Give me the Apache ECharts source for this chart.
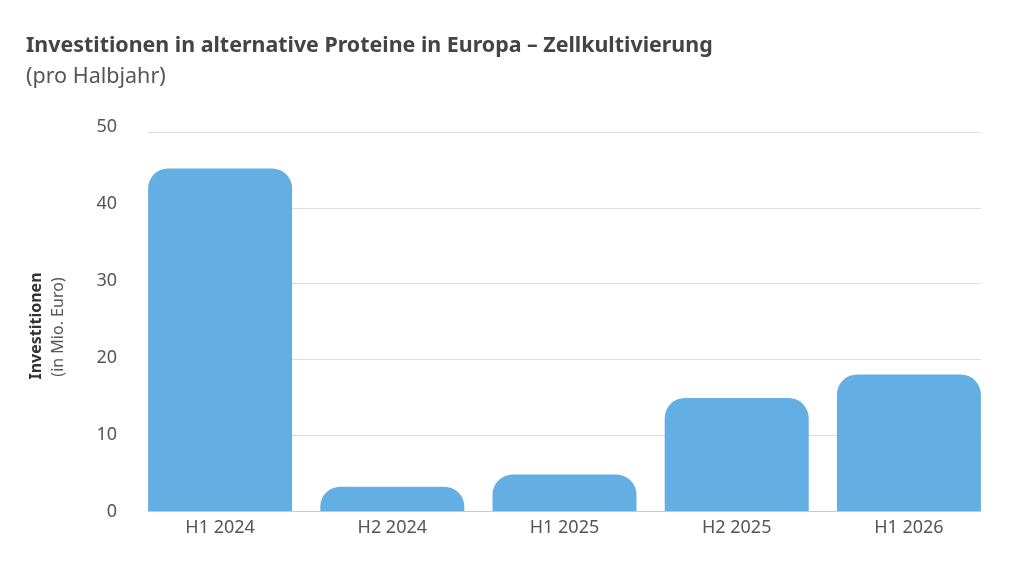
<!DOCTYPE html>
<html>
<head>
    <meta charset="UTF-8">
    <title>Investitionen Zellkultivierung</title>
    <style>
        html, body { margin: 0; padding: 0; background: #fff; }
        #chart { width: 1024px; height: 576px; }
    </style>
</head>
<body>
    <div id="chart"></div>
    <script src="https://cdn.jsdelivr.net/npm/echarts@6/dist/echarts.min.js"></script>
    <script>
        // Daten
        var categories = ['H1 2024', 'H2 2024', 'H1 2025', 'H2 2025', 'H1 2026'];
        var investments = [45.2, 3.2, 4.8, 14.9, 18.0];
        var yTicks = [0, 10, 20, 30, 40, 50];

        var fontFamily = '"Noto Sans", "Open Sans", sans-serif';
        var barColor = '#63afe3';
        var yMin = yTicks[0];
        var yMax = yTicks[yTicks.length - 1];

        var chart = echarts.init(document.getElementById('chart'));

        var option = {
            backgroundColor: '#ffffff',
            animation: false,
            textStyle: { fontFamily: fontFamily },
            title: [{
                text: 'Investitionen in alternative Proteine in Europa – Zellkultivierung',
                left: 21,
                top: 30,
                textStyle: { fontSize: 21.4, fontWeight: 'bold', color: '#444444', fontFamily: fontFamily }
            }, {
                text: '(pro Halbjahr)',
                left: 21,
                top: 61,
                textStyle: { fontSize: 21.5, fontWeight: 'normal', color: '#555555', fontFamily: fontFamily }
            }],
            // grid 0: Raster, grid 1: Balken (randbündig), grid 2: y-Beschriftung
            grid: [
                { left: 148, right: 43, top: 132, bottom: 65 },
                { left: 134, right: 29, top: 132, bottom: 65 },
                { left: 148, right: 43, top: 127, bottom: 64.5 }
            ],
            xAxis: [{
                gridIndex: 0,
                type: 'category',
                data: categories,
                axisLine: { lineStyle: { color: '#c8c8c8', width: 1 } },
                axisTick: { show: false },
                axisLabel: { show: false }
            }, {
                gridIndex: 1,
                type: 'category',
                data: categories,
                axisLine: { show: false },
                axisTick: { show: false },
                axisLabel: { color: '#555555', fontSize: 18, margin: 8 }
            }, {
                gridIndex: 2,
                type: 'category',
                data: categories,
                show: false
            }],
            yAxis: [{
                gridIndex: 0,
                type: 'value',
                min: yMin,
                max: yMax,
                interval: 10,
                axisLine: { show: false },
                axisTick: { show: false },
                axisLabel: { show: false },
                splitLine: { lineStyle: { color: '#dddddd', width: 1 } }
            }, {
                gridIndex: 1,
                type: 'value',
                min: yMin,
                max: yMax,
                interval: 10,
                show: false,
                splitLine: { show: false }
            }, {
                gridIndex: 2,
                type: 'value',
                min: yMin,
                max: yMax,
                interval: 10,
                axisLine: { show: false },
                axisTick: { show: false },
                axisLabel: { color: '#555555', fontSize: 18, margin: 31 },
                splitLine: { show: false }
            }],
            graphic: [{
                type: 'text',
                x: 36,
                y: 326,
                rotation: Math.PI / 2,
                style: {
                    text: 'Investitionen',
                    fill: '#333333',
                    font: 'bold 16px ' + fontFamily,
                    textAlign: 'center',
                    textVerticalAlign: 'middle'
                }
            }, {
                type: 'text',
                x: 58,
                y: 327,
                rotation: Math.PI / 2,
                style: {
                    text: '(in Mio. Euro)',
                    fill: '#555555',
                    font: '16px ' + fontFamily,
                    textAlign: 'center',
                    textVerticalAlign: 'middle'
                }
            }],
            series: [{
                type: 'bar',
                xAxisIndex: 1,
                yAxisIndex: 1,
                data: investments,
                barWidth: 144,
                itemStyle: { color: barColor, borderRadius: [20, 20, 0, 0] }
            }]
        };

        chart.setOption(option);
    </script>
</body>
</html>
